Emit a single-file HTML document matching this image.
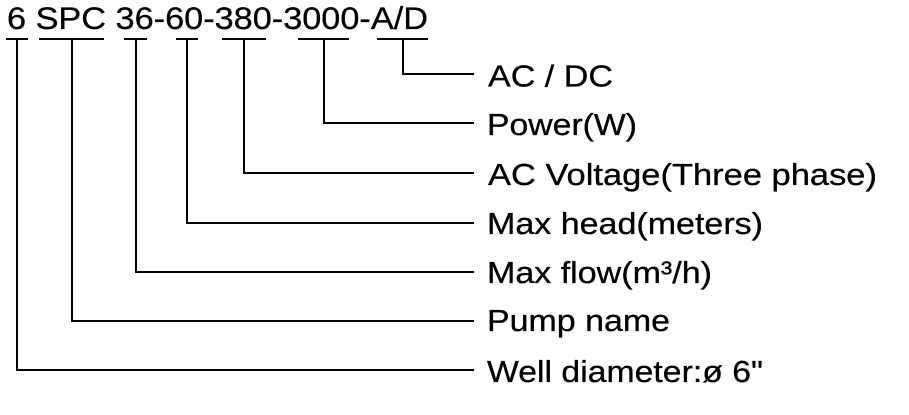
<!DOCTYPE html>
<html>
<head>
<meta charset="utf-8">
<style>
  html, body { margin: 0; padding: 0; background: #fff; }
  body { width: 909px; height: 415px; overflow: hidden; }
  svg { display: block; }
  text { font-family: "Liberation Sans", Arial, sans-serif; fill: #000; stroke: #000; stroke-width: 0.3px; }
</style>
</head>
<body>
<svg width="909" height="415" viewBox="0 0 909 415" xmlns="http://www.w3.org/2000/svg">
  <rect width="909" height="415" fill="#fff"/>
  <!-- Top model code -->
  <text transform="translate(7,29) scale(1.1,1)" x="0" y="0" font-size="31.5" textLength="382.7" lengthAdjust="spacingAndGlyphs">6 SPC 36-60-380-3000-A/D</text>

  <g stroke="#000" stroke-width="2" fill="none" stroke-linecap="butt">
    <!-- underlines -->
    <line x1="6" y1="39" x2="28" y2="39"/>
    <line x1="39" y1="39" x2="104" y2="39"/>
    <line x1="124" y1="39" x2="147" y2="39"/>
    <line x1="176" y1="39" x2="198" y2="39"/>
    <line x1="222" y1="39" x2="266" y2="39"/>
    <line x1="298" y1="39" x2="349" y2="39"/>
    <line x1="377" y1="39" x2="428" y2="39"/>

    <!-- connectors -->
    <polyline points="403,39 403,74 474,74"/>
    <polyline points="324,39 324,123 474,123"/>
    <polyline points="244,39 244,173 474,173"/>
    <polyline points="187,39 187,223 474,223"/>
    <polyline points="136,39 136,272 474,272"/>
    <polyline points="72,39 72,321 474,321"/>
    <polyline points="17,39 17,370 474,370"/>
  </g>

  <!-- Labels -->
  <g font-size="31">
    <text transform="translate(488,86.5) scale(1.1,1)" x="0" y="0" textLength="113.6" lengthAdjust="spacingAndGlyphs">AC / DC</text>
    <text transform="translate(487,135) scale(1.1,1)" x="0" y="0" textLength="136.4" lengthAdjust="spacingAndGlyphs">Power(W)</text>
    <text transform="translate(488,185) scale(1.1,1)" x="0" y="0" textLength="353.6" lengthAdjust="spacingAndGlyphs">AC Voltage(Three phase)</text>
    <text transform="translate(487,234) scale(1.1,1)" x="0" y="0" textLength="250.9" lengthAdjust="spacingAndGlyphs">Max head(meters)</text>
    <text transform="translate(487,283) scale(1.1,1)" x="0" y="0" textLength="204.5" lengthAdjust="spacingAndGlyphs">Max flow(m³/h)</text>
    <text transform="translate(487,331) scale(1.1,1)" x="0" y="0" textLength="166.4" lengthAdjust="spacingAndGlyphs">Pump name</text>
    <text transform="translate(487,382) scale(1.1,1)" x="0" y="0" textLength="250.9" lengthAdjust="spacingAndGlyphs">Well diameter:ø 6"</text>
  </g>
</svg>
</body>
</html>
